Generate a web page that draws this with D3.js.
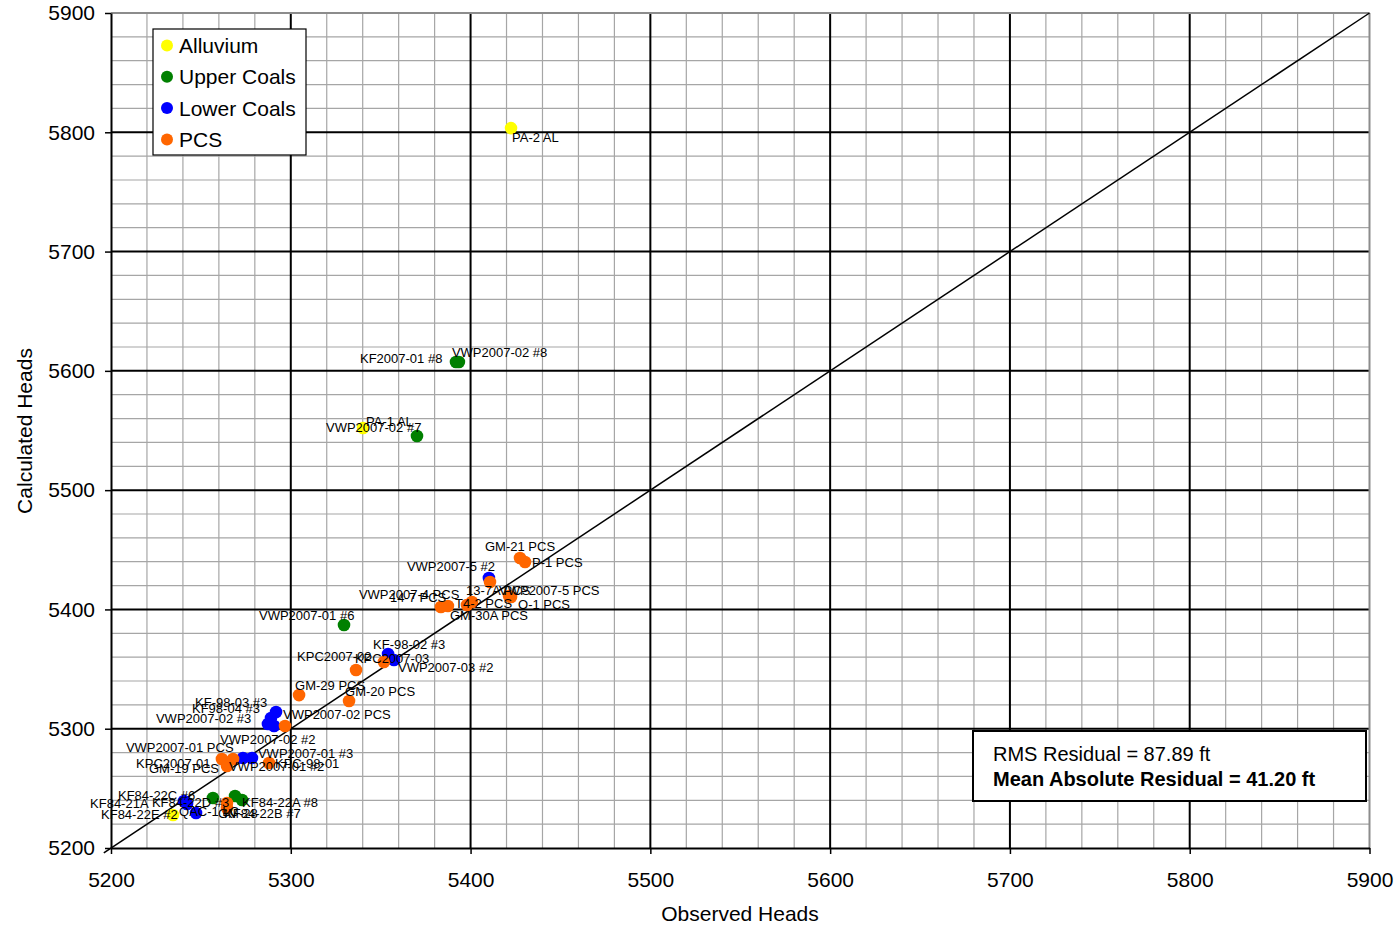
<!DOCTYPE html>
<html><head><meta charset="utf-8">
<script src="https://cdn.jsdelivr.net/npm/d3@7/dist/d3.min.js"></script>
<style>body{margin:0;background:#fff;} svg{display:block;font-family:"Liberation Sans",Arial,sans-serif;}</style>
</head><body>
<svg id="chart" width="1395" height="932"></svg>
<script>
// ---- Data ----
const alluvium = [
  {name:"PA-2 AL", obs:5422.5, calc:5803.5},
  {name:"PA-1 AL", obs:5340.2, calc:5552.1},
  {name:"KF84-22E #2", obs:5234.5, calc:5227.7}
];
const upperCoals = [
  {name:"KF2007-01 #8", obs:5391.9, calc:5607.4},
  {name:"VWP2007-02 #8", obs:5393.5, calc:5607.4},
  {name:"VWP2007-02 #7", obs:5370.2, calc:5545.4},
  {name:"VWP2007-01 #6", obs:5329.6, calc:5386.9},
  {name:"KF84-22D #3", obs:5256.7, calc:5241.9},
  {name:"KF84-22A #8", obs:5269.0, calc:5243.6},
  {name:"KF84-22B #7", obs:5272.9, calc:5240.2}
];
const lowerCoals = [
  {name:"VWP2007-5 #2", obs:5410.2, calc:5426.3},
  {name:"KF-98-02 #3", obs:5354.1, calc:5362.6},
  {name:"VWP2007-03 #2", obs:5357.4, calc:5357.6},
  {name:"KF-98-03 #3", obs:5291.8, calc:5314.0},
  {name:"KF98-04 #3", obs:5289.0, calc:5309.0},
  {name:"VWP2007-02 #3", obs:5287.3, calc:5303.9},
  {name:"VWP2007-02 #2", obs:5290.7, calc:5302.3},
  {name:"VWP2007-01 #3", obs:5278.4, calc:5275.4},
  {name:"VWP2007-01 #2", obs:5273.4, calc:5275.4},
  {name:"KF84-22C #6", obs:5240.6, calc:5239.4},
  {name:"KF84-21A", obs:5242.3, calc:5236.9},
  {name:"QAC-1 LC", obs:5247.3, calc:5229.3}
];
const pcs = [
  {name:"GM-21 PCS", obs:5427.5, calc:5443.1},
  {name:"P-1 PCS", obs:5430.3, calc:5439.7},
  {name:"13-7A PCS", obs:5410.8, calc:5423.0},
  {name:"VWP2007-5 PCS", obs:5421.4, calc:5411.2},
  {name:"O-1 PCS", obs:5422.5, calc:5410.4},
  {name:"T4-2 PCS", obs:5400.8, calc:5406.2},
  {name:"GM-30A PCS", obs:5398.0, calc:5403.7},
  {name:"VWP2007-4 PCS", obs:5383.5, calc:5402.0},
  {name:"14-7 PCS", obs:5387.4, calc:5402.9},
  {name:"KPC2007-02", obs:5336.3, calc:5349.2},
  {name:"KPC2007-03", obs:5351.8, calc:5355.9},
  {name:"GM-29 PCS", obs:5304.6, calc:5328.2},
  {name:"GM-20 PCS", obs:5332.4, calc:5323.2},
  {name:"VWP2007-02 PCS", obs:5296.8, calc:5302.3},
  {name:"VWP2007-01 PCS", obs:5261.7, calc:5274.6},
  {name:"KPC2007-01", obs:5267.9, calc:5274.6},
  {name:"GM-19 PCS", obs:5264.5, calc:5268.7},
  {name:"KPC-98-01", obs:5287.9, calc:5271.2},
  {name:"", obs:5264.5, calc:5237.7},
  {name:"GM-28", obs:5264.5, calc:5233.5}
];
const seriesNames = ["Alluvium","Upper Coals","Lower Coals","PCS"];
const xTicks = [5200,5300,5400,5500,5600,5700,5800,5900];
const yTicks = [5200,5300,5400,5500,5600,5700,5800,5900];
const statsLines = ["RMS Residual = 87.89 ft","Mean Absolute Residual = 41.20 ft"];

// ---- Layout / styles (not data) ----
const colors = {"Alluvium":"#FFFF00","Upper Coals":"#008000","Lower Coals":"#0000FF","PCS":"#FF6600"};
const labelOffsets = {
  "PA-2 AL":[1,13.5],"PA-1 AL":[3,-2.5],"KF84-22E #2":[-72,3.5],
  "KF2007-01 #8":[-96,0.5],"VWP2007-02 #8":[-7,-5.5],"VWP2007-02 #7":[-91,-4.5],
  "VWP2007-01 #6":[-85,-5.5],"KF84-22D #3":[-61,8.5],"KF84-22A #8":[7,10.5],"KF84-22B #7":[-18,17.5],
  "VWP2007-5 #2":[-82,-7.5],"KF-98-02 #3":[-15,-5.5],"VWP2007-03 #2":[4,11.5],
  "KF-98-03 #3":[-81,-5.5],"KF98-04 #3":[-79,-5.5],"VWP2007-02 #3":[-112,-1.5],"VWP2007-02 #2":[-54,17.5],
  "VWP2007-01 #3":[6,-0.5],"VWP2007-01 #2":[-14,12.5],"KF84-22C #6":[-66,-1.5],"KF84-21A":[-97,3.5],"QAC-1 LC":[-17,2],
  "GM-21 PCS":[-35,-7.5],"P-1 PCS":[7,4.5],"13-7A PCS":[-24,12.5],"VWP2007-5 PCS":[-10,-1.5],"O-1 PCS":[7,11.5],
  "T4-2 PCS":[-17,5.5],"GM-30A PCS":[-17,14.5],"VWP2007-4 PCS":[-82,-8.5],"14-7 PCS":[-58,-4.5],
  "KPC2007-02":[-59,-9.5],"KPC2007-03":[-29,0.5],"GM-29 PCS":[-4,-5.5],"GM-20 PCS":[-4,-5.5],
  "VWP2007-02 PCS":[-2,-7.5],"VWP2007-01 PCS":[-96,-7.5],"KPC2007-01":[-97,8.5],"GM-19 PCS":[-78,6.5],
  "KPC-98-01":[6,4.5],"GM-28":[-9,9.5]
};

const svg = d3.select("#chart");
const x = d3.scaleLinear().domain([5200,5900]).range([111,1369.5]);
const y = d3.scaleLinear().domain([5200,5900]).range([848,13]);

// minor grid
const minor = d3.range(5220,5900,20).filter(v=>v%100!==0);
const g = svg.append("g");
g.selectAll("line.mx").data(minor).join("line")
  .attr("x1",d=>x(d)).attr("x2",d=>x(d)).attr("y1",y(5200)).attr("y2",y(5900))
  .attr("stroke","#a6a6a6").attr("stroke-width",1.2);
g.selectAll("line.my").data(minor).join("line")
  .attr("y1",d=>y(d)).attr("y2",d=>y(d)).attr("x1",x(5200)).attr("x2",x(5900))
  .attr("stroke","#a6a6a6").attr("stroke-width",1.2);
// major grid
const majorInner = xTicks.slice(1,-1);
g.selectAll("line.Mx").data(majorInner).join("line")
  .attr("x1",d=>x(d)).attr("x2",d=>x(d)).attr("y1",y(5200)).attr("y2",y(5900))
  .attr("stroke","#000").attr("stroke-width",2);
g.selectAll("line.My").data(yTicks.slice(1,-1)).join("line")
  .attr("y1",d=>y(d)).attr("y2",d=>y(d)).attr("x1",x(5200)).attr("x2",x(5900))
  .attr("stroke","#000").attr("stroke-width",2);
// top/right border gray
g.append("line").attr("x1",x(5200)).attr("x2",x(5900)).attr("y1",y(5900)).attr("y2",y(5900)).attr("stroke","#8c8c8c").attr("stroke-width",2);
g.append("line").attr("x1",x(5900)).attr("x2",x(5900)).attr("y1",y(5200)).attr("y2",y(5900)).attr("stroke","#8c8c8c").attr("stroke-width",2);

// axes
const xAxis = svg.append("g").attr("transform",`translate(0,${y(5200)})`)
  .call(d3.axisBottom(x).tickValues(xTicks).tickFormat(d3.format("d")).tickSize(6).tickSizeOuter(0).tickPadding(18));
const yAxis = svg.append("g").attr("transform",`translate(${x(5200)},0)`)
  .call(d3.axisLeft(y).tickValues(yTicks).tickFormat(d3.format("d")).tickSize(6).tickSizeOuter(0).tickPadding(10));
[xAxis,yAxis].forEach(a=>{
  a.select(".domain").attr("stroke","#000").attr("stroke-width",2);
  a.selectAll(".tick line").attr("stroke","#000").attr("stroke-width",1.5);
  a.selectAll(".tick text").attr("font-size",21).attr("fill","#000").attr("font-family","Liberation Sans, Arial, sans-serif");
});

// 1:1 line
svg.append("line").attr("x1",x(5196)).attr("y1",y(5196)).attr("x2",x(5900)).attr("y2",y(5900))
  .attr("stroke","#000").attr("stroke-width",1.5);

// points
const all = [["Alluvium",alluvium],["Upper Coals",upperCoals],["Lower Coals",lowerCoals],["PCS",pcs]];
all.forEach(([s,data])=>{
  svg.append("g").selectAll("circle").data(data).join("circle")
    .attr("cx",d=>x(d.obs)).attr("cy",d=>y(d.calc)).attr("r",6.3).attr("fill",colors[s]);
});
// labels
all.forEach(([s,data])=>{
  svg.append("g").selectAll("text").data(data.filter(d=>d.name)).join("text")
    .attr("x",d=>x(d.obs)+(labelOffsets[d.name]||[6,4])[0])
    .attr("y",d=>y(d.calc)+(labelOffsets[d.name]||[6,4])[1]+0.5)
    .attr("font-size",13).attr("fill","#000").text(d=>d.name);
});

// legend
const lg = svg.append("g");
lg.append("rect").attr("x",153).attr("y",29).attr("width",153).attr("height",126)
  .attr("fill","#fff").attr("stroke","#000").attr("stroke-width",1.2);
seriesNames.forEach((s,i)=>{
  const cy = 45.5 + i*31.3;
  lg.append("circle").attr("cx",167).attr("cy",cy).attr("r",6).attr("fill",colors[s]);
  lg.append("text").attr("x",179).attr("y",cy+7.5).attr("font-size",21).attr("fill","#000").text(s);
});

// stats box
const sb = svg.append("g");
sb.append("rect").attr("x",973).attr("y",731).attr("width",393).attr("height",70)
  .attr("fill","#fff").attr("stroke","#000").attr("stroke-width",2);
sb.append("text").attr("x",993).attr("y",761).attr("font-size",20).attr("fill","#000").text(statsLines[0]);
sb.append("text").attr("x",993).attr("y",786).attr("font-size",20).attr("font-weight","bold").attr("fill","#000").text(statsLines[1]);

// axis titles
svg.append("text").attr("x",740).attr("y",921).attr("text-anchor","middle").attr("font-size",21).text("Observed Heads");
svg.append("text").attr("transform","translate(32,431) rotate(-90)").attr("text-anchor","middle").attr("font-size",21).text("Calculated Heads");
</script>
</body></html>
